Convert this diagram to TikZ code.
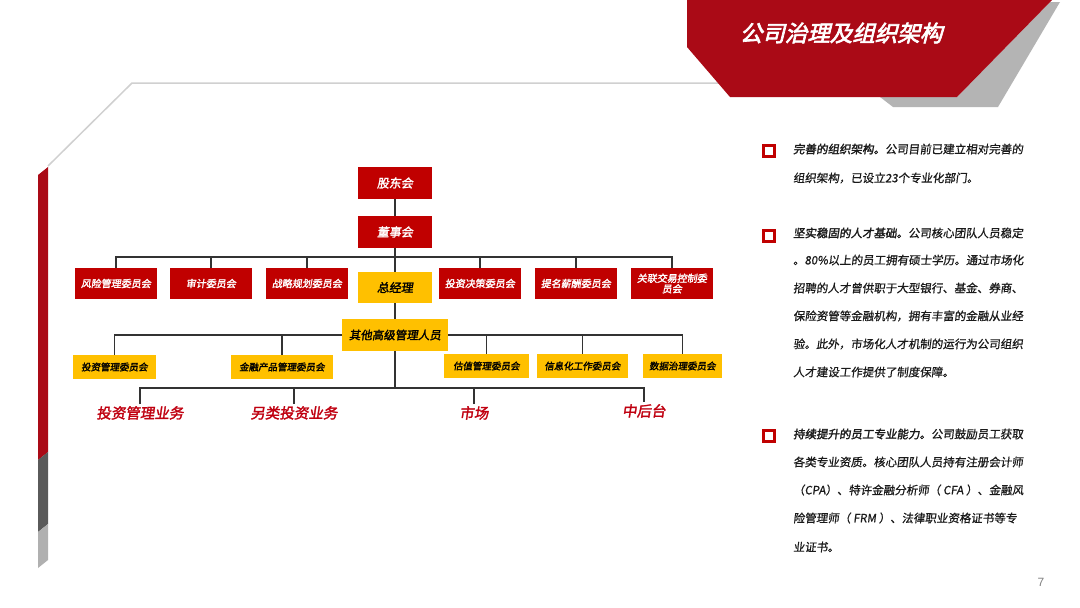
\documentclass[tikz,border=0pt]{standalone}
\usepackage{fontspec}
\newfontfamily\cjk[FakeSlant=0.12,FakeBold=0.8]{Noto Sans CJK SC}
\newfontfamily\cjkb[FakeSlant=0.15,FakeBold=2]{Noto Sans CJK SC}
\newfontfamily\titfont[FakeSlant=0.25,FakeBold=3]{Noto Sans CJK SC}
\newfontfamily\pnum{Liberation Sans}
\usetikzlibrary{backgrounds}
\definecolor{boxred}{HTML}{C00000}
\definecolor{banred}{HTML}{AA0A16}
\definecolor{boxyel}{HTML}{FFC000}
\definecolor{lblred}{HTML}{C00010}
\definecolor{framegray}{HTML}{D0D0D0}
\definecolor{shgray}{HTML}{B4B4B4}
\definecolor{dkgray}{HTML}{5A5A5A}
\definecolor{ltgray}{HTML}{B0B0B0}
\definecolor{linec}{HTML}{333333}
\definecolor{txtc}{HTML}{1A1A1A}
\pgfdeclarelayer{page}
\pgfdeclarelayer{lines}
\pgfsetlayers{page,lines,main}
\tikzset{
  rbox/.style={fill=boxred, text=white, minimum width=82pt, minimum height=31pt, inner sep=0pt,
    font=\cjkb\fontsize{10}{11}\selectfont, align=center},
  topbox/.style={rbox, minimum width=74pt, minimum height=32pt, font=\cjkb\fontsize{12}{13}\selectfont},
  ybox/.style={fill=boxyel, text=black, inner sep=0pt, minimum height=24pt,
    font=\cjkb\fontsize{9.5}{11}\selectfont},
  bigy/.style={ybox, minimum height=31pt, font=\cjkb\fontsize{12}{13}\selectfont},
  biz/.style={text=lblred, inner sep=2pt, anchor=north, font=\cjkb\fontsize{14.5}{16}\selectfont},
  conn/.style={draw=linec, line width=1.2pt},
  para/.style={anchor=west, inner sep=0pt, text=txtc, font=\cjk\fontsize{11.5}{13}\selectfont},
  bul/.style={draw=boxred, line width=2.6pt, minimum size=11pt, inner sep=0pt},
}
\begin{document}
\begin{tikzpicture}[x=1pt,y=-1pt]
\useasboundingbox (0,0) rectangle (1080,608);
\begin{pgfonlayer}{page}
  \fill[white] (0,0) rectangle (1080,608);
\end{pgfonlayer}
% frame line
\draw[framegray, line width=1.5pt] (48,166) -- (132,83) -- (720,83);
% left bar
\fill[banred] (38,175) -- (48,167) -- (48,452) -- (38,460) -- cycle;
\fill[dkgray] (38,460) -- (48,452) -- (48,524) -- (38,532) -- cycle;
\fill[ltgray] (38,532) -- (48,524) -- (48,560) -- (38,568) -- cycle;
% banner
\fill[shgray] (1050,2) -- (1060,2) -- (998,107) -- (893,107) -- (880,97) -- (957,97) -- cycle;
\fill[banred] (687,0) -- (1052,0) -- (957,97) -- (730,97) -- (687,47) -- cycle;
\node[text=white, font=\titfont\fontsize{22.5}{24}\selectfont, inner sep=0pt] (title) at (841,33) {公司治理及组织架构};

% org chart
\node[topbox] (gd) at (395,183) {股东会};
\node[topbox] (dsh) at (395,232) {董事会};
\node[rbox] (fx) at (116,283.5) {风险管理委员会};
\node[rbox] (sj) at (211,283.5) {审计委员会};
\node[rbox] (zl) at (307,283.5) {战略规划委员会};
\node[bigy, minimum width=74pt] (zjl) at (395,287.5) {总经理};
\node[rbox] (tc) at (480,283.5) {投资决策委员会};
\node[rbox] (tm) at (576,283.5) {提名薪酬委员会};
\node[rbox, font=\cjkb\fontsize{10}{10.5}\selectfont] (gl) at (672,283.5) {关联交易控制委\\员会};
\node[bigy, minimum width=106pt, minimum height=32pt, font=\cjkb\fontsize{11.5}{13}\selectfont] (qt) at (395,335) {其他高级管理人员};
\node[ybox, minimum width=83pt] (tg) at (114.5,367) {投资管理委员会};
\node[ybox, minimum width=102pt] (jr) at (282,367) {金融产品管理委员会};
\node[ybox, minimum width=85pt] (gz) at (486.5,366) {估值管理委员会};
\node[ybox, minimum width=91pt] (xx) at (582.5,366) {信息化工作委员会};
\node[ybox, minimum width=79pt] (sz) at (682.5,366) {数据治理委员会};
\node[biz] (ya) at (140,404) {投资管理业务};
\node[biz] (yb) at (294,404) {另类投资业务};
\node[biz] (yc) at (474,404) {市场};
\node[biz] (yd) at (644,402) {中后台};

\coordinate (b1) at (395,257);
\coordinate (b3) at (395,388);
\begin{pgfonlayer}{lines}
  \draw[conn] (gd) -- (dsh);
  \draw[conn] (dsh) -- (zjl);
  \draw[conn] (zjl) -- (qt);
  \draw[conn] (fx.north) |- (b1) -| (gl.north);
  \foreach \n in {sj,zl,tc,tm} { \draw[conn] (\n.north) -- (\n.north |- b1); }
  \draw[conn] (tg.north) |- (qt.west);
  \draw[conn] (sz.north) |- (qt.east);
  \foreach \n in {jr,gz,xx} { \draw[conn] (\n.north) -- (\n.north |- qt.west); }
  \draw[conn] (qt.south) -- (b3);
  \draw[conn] (ya.north) |- (b3) -| (yd.north);
  \draw[conn] (yb.north) -- (yb.north |- b3);
  \draw[conn] (yc.north) -- (yc.north |- b3);
\end{pgfonlayer}

% right text
\node[bul] (k1) at (769,151) {};
\node[para] (p1a) at (793,149) {{\cjkb 完善的组织架构。}公司目前已建立相对完善的};
\node[para] (p1b) at (793,178) {组织架构，已设立23个专业化部门。};
\node[bul] (k2) at (769,236) {};
\node[para] (p2a) at (793,233) {{\cjkb 坚实稳固的人才基础。}公司核心团队人员稳定};
\node[para] (p2b) at (793,260) {。80\%以上的员工拥有硕士学历。通过市场化};
\node[para] (p2c) at (793,288) {招聘的人才曾供职于大型银行、基金、券商、};
\node[para] (p2d) at (793,316) {保险资管等金融机构，拥有丰富的金融从业经};
\node[para] (p2e) at (793,344) {验。此外，市场化人才机制的运行为公司组织};
\node[para] (p2f) at (793,372) {人才建设工作提供了制度保障。};
\node[bul] (k3) at (769,436) {};
\node[para] (p3a) at (793,434) {{\cjkb 持续提升的员工专业能力。}公司鼓励员工获取};
\node[para] (p3b) at (793,462) {各类专业资质。核心团队人员持有注册会计师};
\node[para] (p3c) at (793,490) {（CPA）、特许金融分析师（ CFA ）、金融风};
\node[para] (p3d) at (793,518) {险管理师（ FRM ）、法律职业资格证书等专};
\node[para] (p3e) at (793,547) {业证书。};
\node[text=gray, font=\pnum\fontsize{12}{13}\selectfont, inner sep=0pt] (pg) at (1041,582) {7};
\end{tikzpicture}
\end{document}
